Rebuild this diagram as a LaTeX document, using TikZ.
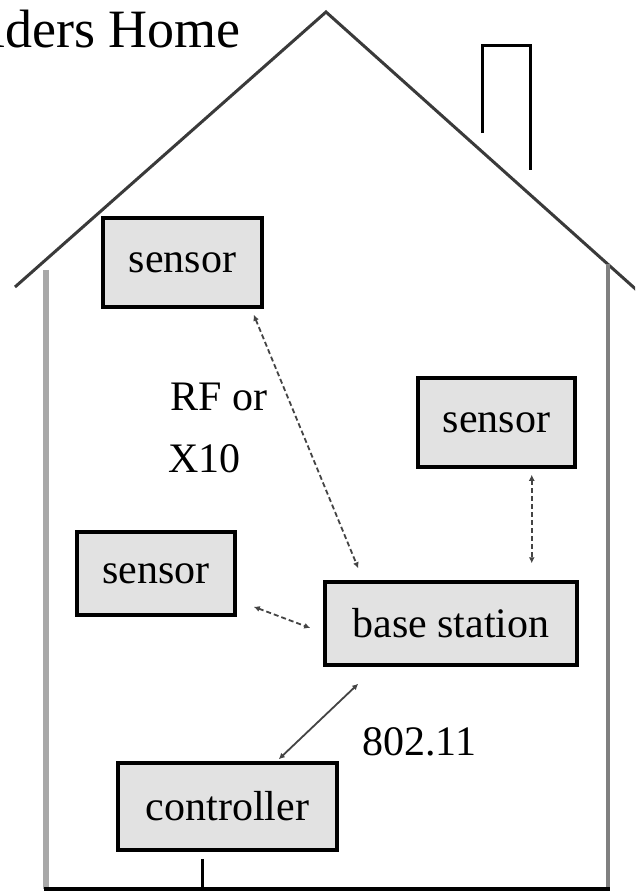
\documentclass[tikz,border=0pt]{standalone}
\usepackage{fontspec}
\setmainfont{Liberation Serif}
\usetikzlibrary{arrows.meta,calc}
\definecolor{boxgray}{HTML}{E2E2E2}
\definecolor{roofgray}{HTML}{3A3A3A}
\definecolor{wallL}{HTML}{A8A8A8}
\definecolor{wallR}{HTML}{808080}
\definecolor{linkgray}{HTML}{444444}
\begin{document}
\begin{tikzpicture}[x=1pt,y=-1pt,
  box/.style={draw=black, line width=3.5pt, fill=boxgray, inner sep=0pt,
              font=\fontsize{42}{50}\selectfont},
  link/.style={draw=linkgray, line width=1.8pt, dash pattern=on 5pt off 3pt,
               {Latex[length=6pt,width=6pt]}-{Latex[length=6pt,width=6pt]}},
  solidlink/.style={draw=linkgray, line width=1.8pt,
               {Latex[length=6pt,width=6pt]}-{Latex[length=6pt,width=6pt]}},
  lbl/.style={font=\fontsize{42}{50}\selectfont, inner sep=0pt}]
\useasboundingbox (0,0) rectangle (635,894);
\clip (0,0) rectangle (635,894);
\fill[white] (0,0) rectangle (635,894);

% title (cut off by the left margin, as in the reference)
\node[font=\fontsize{54}{60}\selectfont, inner sep=0pt, anchor=base east] (title) at (241,47) {lders Home};

% house outline
\coordinate (apex) at (326,12);
\coordinate (roofL) at (15,287);
\coordinate (roofR) at (640,293);
\draw[roofgray, line width=3pt] (roofL) -- (apex) -- (roofR);
\draw[black, line width=3pt] (482,133) -- (482,45) -- (530,45) -- (530,170);
\draw[wallL, line width=6pt] (46,270) -- (46,889);
\draw[wallR, line width=4pt] (608,264) -- (608,889);
\coordinate (floorL) at (44,889);
\coordinate (floorR) at (610,889);
\draw[black, line width=4pt] (floorL) -- (floorR);

% boxes
\node[box, minimum width=159pt, minimum height=89pt] (s1) at (182.5,262.5) {sensor};
\node[box, minimum width=157pt, minimum height=89pt] (s2) at (496.5,422.5) {sensor};
\node[box, minimum width=158pt, minimum height=83pt] (s3) at (156,573.5) {sensor};
\node[box, minimum width=252pt, minimum height=83pt] (bs) at (451,623.5) {base station};
\node[box, minimum width=219pt, minimum height=87pt] (ctrl) at (227.5,806.5) {controller};

% labels
\node[lbl, anchor=base west] (rf) at (170,410) {RF or};
\node[lbl, anchor=base west] (x10) at (168,472) {X10};
\node[lbl, anchor=base west] (wifi) at (362,755) {802.11};

% connectors
\draw[link] ($(s1.south east)+(-10,6)$) -- ($(bs.north west)+(35,-12)$);
\draw[link] ($(s2.south east)+(-45,6)$) -- ($(bs.north east)+(-47,-17)$);
\draw[link] ($(s3.south east)+(17,-10)$) -- ($(bs.west)+(-13,4.5)$);
\draw[solidlink] ($(bs.south west)+(35,17)$) -- ($(ctrl.north east)+(-60,-2)$);
\coordinate (stubtop) at ($(ctrl.south)+(-25.5,7)$);
\draw[black, line width=3pt] (stubtop) -- (stubtop |- floorL);
\end{tikzpicture}
\end{document}
